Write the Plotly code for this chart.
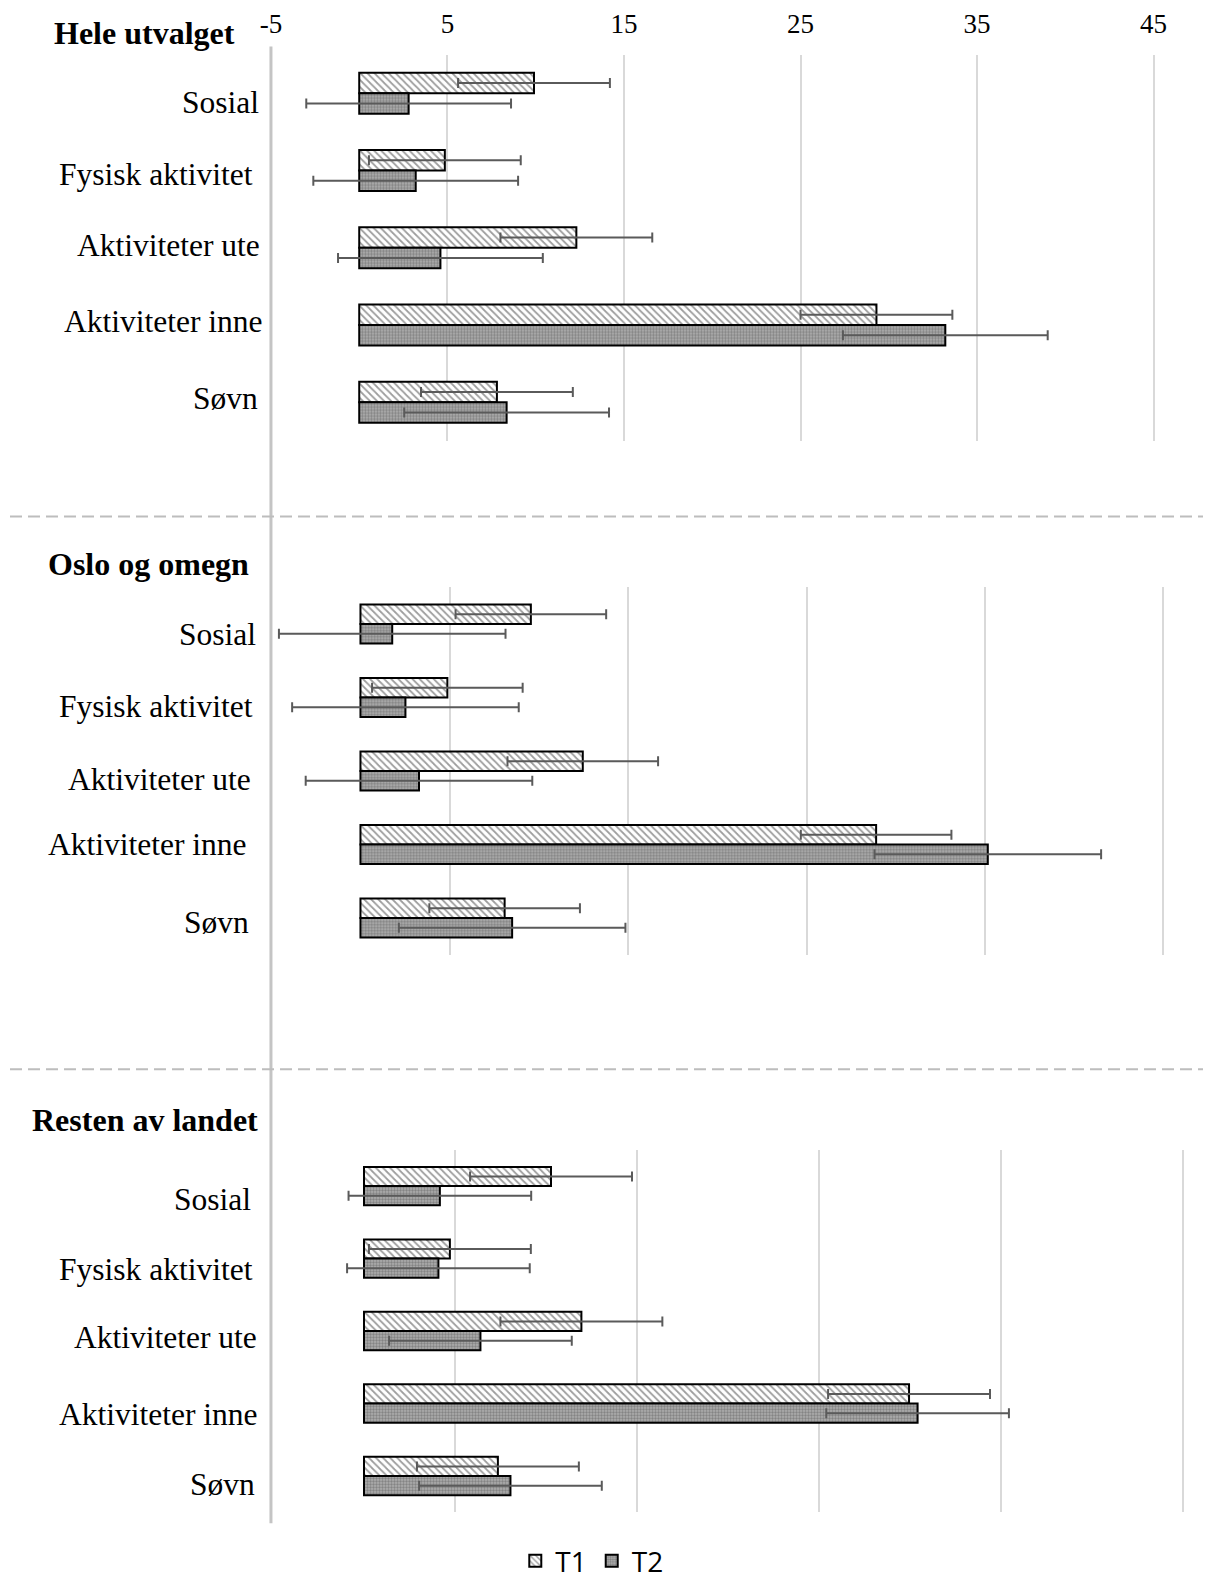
import plotly.graph_objects as go

# ---------------- data ----------------
categories = ["Sosial", "Fysisk aktivitet", "Aktiviteter ute", "Aktiviteter inne", "Søvn"]
panel_titles = ["Hele utvalget", "Oslo og omegn", "Resten av landet"]
series_names = ["T1", "T2"]
x_tick_values = [-5, 5, 15, 25, 35, 45]
x_tick_labels = ["-5", "5", "15", "25", "35", "45"]

hele_t1 = [9.9, 4.85, 12.3, 29.3, 7.8]
hele_t1_err = [4.3, 4.3, 4.3, 4.3, 4.3]
hele_t2 = [2.8, 3.2, 4.6, 33.2, 8.35]
hele_t2_err = [5.8, 5.8, 5.8, 5.8, 5.8]

oslo_t1 = [9.55, 4.87, 12.46, 28.9, 8.08]
oslo_t1_err = [4.22, 4.22, 4.22, 4.22, 4.22]
oslo_t2 = [1.78, 2.52, 3.28, 35.16, 8.5]
oslo_t2_err = [6.35, 6.35, 6.35, 6.35, 6.35]

resten_t1 = [10.28, 4.72, 11.95, 29.96, 7.36]
resten_t1_err = [4.45, 4.45, 4.45, 4.45, 4.45]
resten_t2 = [4.17, 4.09, 6.4, 30.43, 8.05]
resten_t2_err = [5.02, 5.02, 5.02, 5.02, 5.02]

panels = [
    (hele_t1, hele_t1_err, hele_t2, hele_t2_err),
    (oslo_t1, oslo_t1_err, oslo_t2, oslo_t2_err),
    (resten_t1, resten_t1_err, resten_t2, resten_t2_err),
]

# ---------------- layout helpers ----------------
W, H = 1209, 1586
# small correction measured from the rendered page (content appears shifted/scaled)
X_OFF, X_S = 11.0, 0.988
Y_OFF, Y_S = 0.2, 0.9967


def px(x):
    return ((x - X_OFF) / X_S) / W


def py(y):
    return 1 - ((y - Y_OFF) / Y_S) / H


X_MIN, X_MAX = -5, 45.4
x_origin = [271.5, 271.8, 273.6]
x_scale = [17.69, 17.88, 18.23]
y_domains = [(55, 443), (590, 959), (1155, 1519)]

serif = "Liberation Serif, Times New Roman, serif"

styles = [
    dict(color="white", pattern=dict(shape="\\", fgcolor="#3c3c3c", size=5,
                                     solidity=0.35, fillmode="overlay")),
    dict(color="#b2b2b2", pattern=dict(shape=".", fgcolor="#505050", size=3,
                                       solidity=0.5, fillmode="overlay")),
]

fig = go.Figure()

for i, (t1, e1, t2, e2) in enumerate(panels):
    suffix = "" if i == 0 else str(i + 1)
    for j, (vals, errs) in enumerate([(t1, e1), (t2, e2)]):
        fig.add_trace(go.Bar(
            x=vals, y=categories, orientation="h",
            name=series_names[j],
            showlegend=(i == 0),
            legendgroup=series_names[j],
            marker=dict(color=styles[j]["color"], pattern=styles[j]["pattern"],
                        line=dict(color="black", width=2)),
            error_x=dict(type="data", array=errs, visible=True,
                         color="#5a5a5a", thickness=2, width=5),
            xaxis="x" + suffix, yaxis="y" + suffix,
        ))
    x0 = x_origin[i]
    x1 = x0 + (X_MAX - X_MIN) * x_scale[i]
    yd = y_domains[i]
    fig.update_layout(**{
        "xaxis" + suffix: dict(
            domain=[px(x0), px(x1)], range=[X_MIN, X_MAX],
            tickmode="array", tickvals=x_tick_values, ticktext=x_tick_labels,
            showgrid=True, gridcolor="#d9d9d9", gridwidth=2,
            zeroline=False, showline=False, ticks="",
            side="top", showticklabels=(i == 0), ticklabelstandoff=15,
            tickfont=dict(family=serif, size=27, color="black"),
            anchor="y" + suffix, fixedrange=True,
        ),
        "yaxis" + suffix: dict(
            domain=[py(yd[1]), py(yd[0])], autorange="reversed",
            showticklabels=False, showgrid=False, zeroline=False,
            showline=False, ticks="", anchor="x" + suffix, fixedrange=True,
        ),
    })

label_pos = [
    [(262, 103), (256, 175), (263, 247), (266, 323), (261, 400)],
    [(259, 637), (256, 710), (254, 783), (249, 848), (252, 927)],
    [(254, 1205), (256, 1275), (260, 1343), (261, 1421), (258, 1491)],
]
annotations = []
for i in range(3):
    for k, cat in enumerate(categories):
        xr, yc = label_pos[i][k]
        annotations.append(dict(
            text=cat, x=px(xr), y=py(yc), xref="paper", yref="paper",
            xanchor="right", yanchor="middle", showarrow=False,
            font=dict(family=serif, size=31.5, color="black"),
        ))

title_pos = [(52, 33), (46, 567), (30, 1125)]
for i, t in enumerate(panel_titles):
    xl, yc = title_pos[i]
    annotations.append(dict(
        text="<b>" + t + "</b>", x=px(xl), y=py(yc), xref="paper", yref="paper",
        xanchor="left", yanchor="middle", showarrow=False,
        font=dict(family=serif, size=32, color="black"),
    ))

shapes = [
    dict(type="line", xref="paper", yref="paper", x0=px(271.5), x1=px(271.5),
         y0=py(47), y1=py(1530), line=dict(color="#c4c4c4", width=3), layer="below"),
    dict(type="line", xref="paper", yref="paper", x0=px(10), x1=1,
         y0=py(519), y1=py(519), line=dict(color="#bdbdbd", width=2, dash="12px,6px")),
    dict(type="line", xref="paper", yref="paper", x0=px(10), x1=1,
         y0=py(1074), y1=py(1074), line=dict(color="#bdbdbd", width=2, dash="12px,6px")),
]

fig.update_layout(
    width=W, height=H, autosize=False,
    margin=dict(l=0, r=0, t=0, b=0),
    paper_bgcolor="white", plot_bgcolor="white",
    barmode="group", bargap=0.47, bargroupgap=0,
    annotations=annotations, shapes=shapes,
    showlegend=True,
    legend=dict(orientation="h", x=px(593), y=py(1568), xanchor="center",
                yanchor="middle", font=dict(family="Open Sans, sans-serif", size=28,
                                            color="black"),
                traceorder="normal", itemwidth=30, bgcolor="rgba(0,0,0,0)"),
)

fig.write_html(
    "out.html",
    config={"displayModeBar": False, "responsive": False},
    post_script=(
        "document.documentElement.style.margin='0';"
        "document.body.style.margin='0';"
        "window.scrollTo(0,0);"
    ),
)
